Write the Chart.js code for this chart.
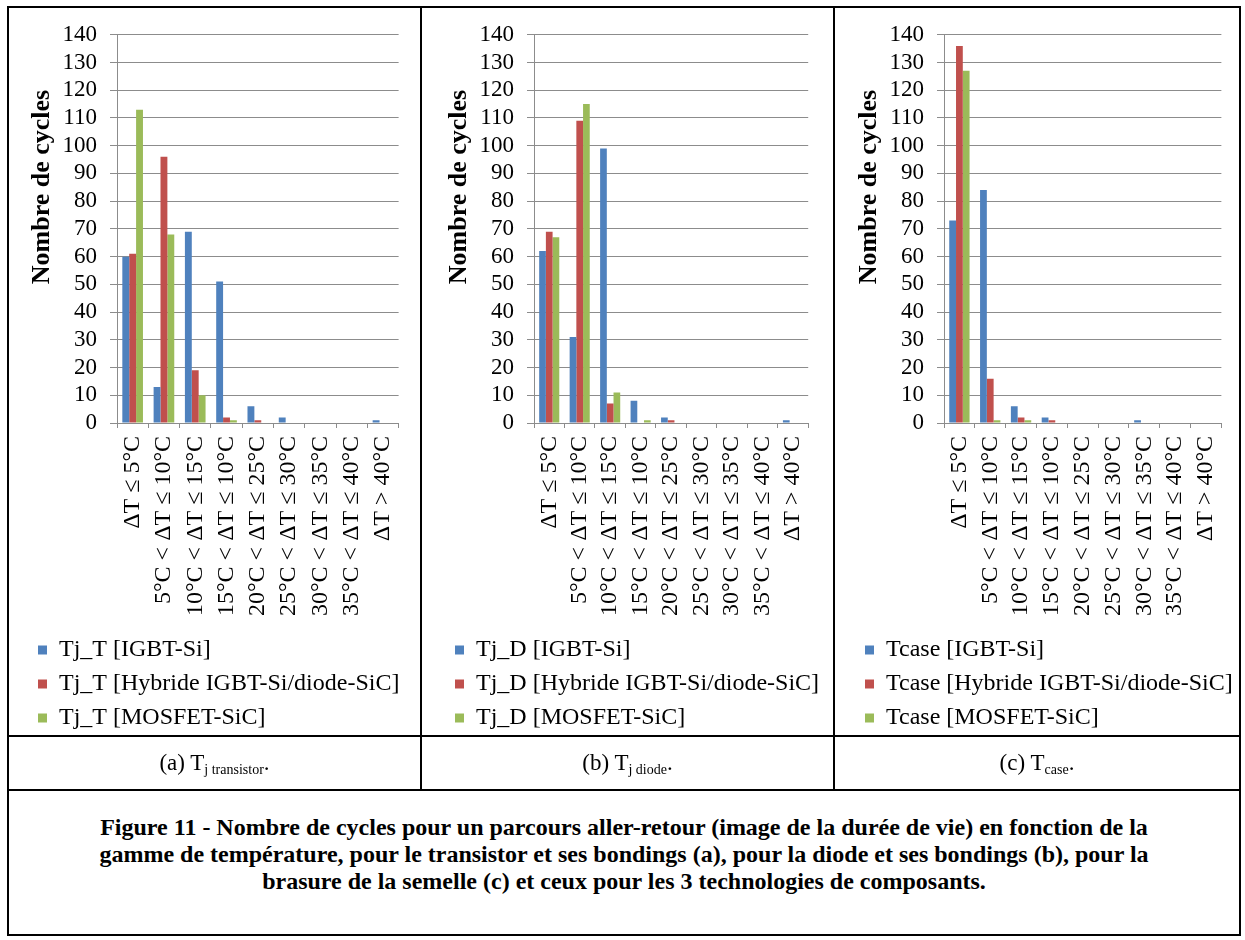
<!DOCTYPE html>
<html lang="fr">
<head>
<meta charset="utf-8">
<title>Figure 11 - Nombre de cycles</title>
<script src="https://cdn.jsdelivr.net/npm/chart.js@4.4.0/dist/chart.umd.min.js"></script>
<style>
  body { margin: 0; background: #fff; font-family: "Liberation Serif", "Times New Roman", serif; color: #000; }
  #page { position: relative; width: 1245px; height: 940px; overflow: hidden; }
  .frame { position: absolute; left: 7px; top: 6px; width: 1234px; height: 930px; border: 2px solid #000; box-sizing: border-box; }
  .vline { position: absolute; top: 6px; width: 2px; height: 785px; background: #000; }
  .hline { position: absolute; left: 7px; width: 1234px; height: 2px; background: #000; }
  canvas { position: absolute; top: 8px; }
  .sub { position: absolute; top: 737px; height: 52px; line-height: 52px; text-align: center; font-size: 23px; }
  .sub sub { font-size: 14px; vertical-align: -4px; line-height: 0; }
  .caption { position: absolute; left: 9px; top: 814px; width: 1230px; text-align: center; font-weight: bold; font-size: 24px; line-height: 27px; }
</style>
</head>
<body>
<div id="page">
  <div class="frame"></div>
  <div class="vline" style="left:420px"></div>
  <div class="vline" style="left:833px"></div>
  <div class="hline" style="top:735px"></div>
  <div class="hline" style="top:789px"></div>

  <canvas id="chartA" width="412" height="732" style="left:8px"></canvas>
  <canvas id="chartB" width="405" height="732" style="left:425px"></canvas>
  <canvas id="chartC" width="408" height="732" style="left:835px"></canvas>

  <div class="sub" style="left:9px;width:411px">(a) T<sub>j transistor</sub>.</div>
  <div class="sub" style="left:422px;width:411px">(b) T<sub>j diode</sub>.</div>
  <div class="sub" style="left:835px;width:404px">(c) T<sub>case</sub>.</div>

  <div class="caption">Figure 11 - Nombre de cycles pour un parcours aller-retour (image de la durée de vie) en fonction de la<br>gamme de température, pour le transistor et ses bondings (a), pour la diode et ses bondings (b), pour la<br>brasure de la semelle (c) et ceux pour les 3 technologies de composants.</div>
</div>

<script>
// categories (temperature ranges), as written in the original figure
const categories = [
  "ΔT ≤ 5°C",
  "5°C < ΔT ≤ 10°C",
  "10°C < ΔT ≤ 15°C",
  "15°C < ΔT ≤ 10°C",
  "20°C < ΔT ≤ 25°C",
  "25°C < ΔT ≤ 30°C",
  "30°C < ΔT ≤ 35°C",
  "35°C < ΔT ≤ 40°C",
  "ΔT > 40°C"
];
const technologies = ["IGBT-Si", "Hybride IGBT-Si/diode-SiC", "MOSFET-SiC"];
const yMax = 140;
const yStep = 10;

// (a) Tj transistor
const tjTIgbt = [60, 13, 69, 51, 6, 2, 0, 0, 1];
const tjTHybride = [61, 96, 19, 2, 1, 0, 0, 0, 0];
const tjTMosfet = [113, 68, 10, 1, 0, 0, 0, 0, 0];

// (b) Tj diode
const tjDIgbt = [62, 31, 99, 8, 2, 0, 0, 0, 1];
const tjDHybride = [69, 109, 7, 0, 1, 0, 0, 0, 0];
const tjDMosfet = [67, 115, 11, 1, 0, 0, 0, 0, 0];

// (c) Tcase
const tcaseIgbt = [73, 84, 6, 2, 0, 0, 1, 0, 0];
const tcaseHybride = [136, 16, 2, 1, 0, 0, 0, 0, 0];
const tcaseMosfet = [127, 1, 1, 0, 0, 0, 0, 0, 0];

const colors = ["#4F81BD", "#C0504D", "#9BBB59"];
const gridColor = "#8c8c8c";
const serif = "'Times New Roman', 'Liberation Serif', serif";

Chart.defaults.font.family = serif;
Chart.defaults.color = "#000";

// y axis title, drawn by hand so it can sit higher than the plot centre (like Excel)
const yTitle = {
  id: "yTitle",
  afterDraw(chart, args, opts) {
    const ctx = chart.ctx;
    ctx.save();
    ctx.translate(opts.x, opts.y);
    ctx.rotate(-Math.PI / 2);
    ctx.font = opts.font;
    ctx.fillStyle = "#000";
    ctx.textAlign = "center";
    ctx.textBaseline = "middle";
    ctx.fillText(opts.text, 0, 0);
    ctx.restore();
  }
};

function makePanel(id, prefix, series) {
  const canvas = document.getElementById(id);
  return new Chart(canvas, {
    type: "bar",
    data: {
      labels: categories,
      datasets: series.map((values, i) => ({
        label: prefix + " [" + technologies[i] + "]",
        data: values,
        backgroundColor: colors[i],
        borderWidth: 0,
        categoryPercentage: 0.66,
        barPercentage: 1
      }))
    },
    options: {
      responsive: false,
      animation: false,
      devicePixelRatio: 1,
      layout: { padding: { top: 20, right: 4, bottom: 0, left: 20 } },
      plugins: {
        tooltip: { enabled: false },
        legend: {
          position: "bottom",
          align: "start",
          labels: { boxWidth: 9, boxHeight: 9, padding: 10, font: { size: 24 }, color: "#000" }
        },
        yTitle: { text: "Nombre de cycles", x: 34, y: 179, font: "bold 26px " + serif }
      },
      scales: {
        x: {
          grid: { display: true, drawOnChartArea: false, drawTicks: true, tickLength: 5, color: gridColor, offset: true },
          border: { display: true, color: gridColor },
          ticks: { autoSkip: false, minRotation: 90, maxRotation: 90, padding: 8, font: { size: 24 } },
          afterFit(scale) { scale.height = 205; }
        },
        y: {
          min: 0,
          max: yMax,
          ticks: { stepSize: yStep, autoSkip: false, padding: 13, font: { size: 23 } },
          grid: { color: gridColor, tickLength: 7, drawTicks: true },
          border: { display: true, color: gridColor },
          afterFit(scale) { scale.width = 89; }
        }
      }
    },
    plugins: [yTitle]
  });
}

makePanel("chartA", "Tj_T", [tjTIgbt, tjTHybride, tjTMosfet]);
makePanel("chartB", "Tj_D", [tjDIgbt, tjDHybride, tjDMosfet]);
makePanel("chartC", "Tcase", [tcaseIgbt, tcaseHybride, tcaseMosfet]);
</script>
</body>
</html>
